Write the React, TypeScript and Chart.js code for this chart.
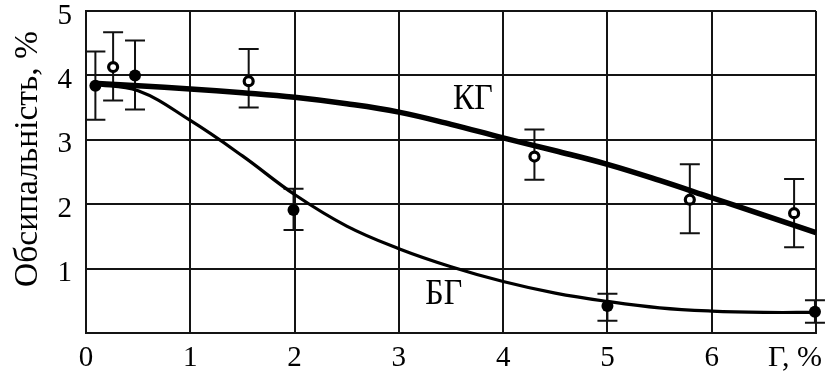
import React, { useEffect, useRef } from "react";
import { Chart, registerables } from "chart.js";

Chart.register(...registerables);

// ---- Data ----
const KG_X = [0.26, 1.56, 4.3, 5.79, 6.79];
const KG_Y = [4.13, 3.91, 2.74, 2.07, 1.86];
const KG_HI = [4.67, 4.41, 3.16, 2.62, 2.39];
const KG_LO = [3.61, 3.5, 2.38, 1.55, 1.33];

const BG_X = [0.09, 0.47, 1.99, 5.0, 6.99];
const BG_Y = [3.84, 4.0, 1.91, 0.42, 0.33];
const BG_HI = [4.37, 4.54, 2.24, 0.61, 0.51];
const BG_LO = [3.31, 3.47, 1.6, 0.19, 0.16];

const CURVE_X = [0.07, 0.5, 1, 1.5, 2, 2.5, 3, 3.5, 4, 4.5, 5, 5.5, 6, 6.5, 7];
const KG_CURVE_Y = [3.88, 3.84, 3.79, 3.73, 3.66, 3.56, 3.43, 3.24, 3.03, 2.83, 2.62, 2.37, 2.1, 1.83, 1.56];
const BG_CURVE_Y = [3.86, 3.76, 3.3, 2.75, 2.15, 1.66, 1.31, 1.03, 0.8, 0.62, 0.49, 0.39, 0.34, 0.32, 0.32];

const X_TICK_LABELS = ["0", "1", "2", "3", "4", "5", "6", ""];
const Y_TICK_LABELS = ["", "1", "2", "3", "4", "5"];
const X_AXIS_LABEL = "Г, %";
const Y_AXIS_LABEL = "Обсипальність, %";
const SERIES_NAMES = ["КГ", "БГ"];
const NAME_X = [3.71, 3.43];
const NAME_Y = [3.62, 0.6];

const FONT = "'Liberation Serif', 'Times New Roman', serif";

const toPts = (xs: number[], ys: number[]) => xs.map((x, i) => ({ x, y: ys[i] }));

const overlay = {
  id: "overlay",
  beforeDatasetsDraw(chart: any) {
    const { ctx, scales } = chart;
    const xs = scales.x;
    const ys = scales.y;
    ctx.save();
    ctx.strokeStyle = "#111";
    ctx.lineWidth = 2;
    const cap = 10;
    const drawBars = (px: number[], lo: number[], hi: number[]) => {
      px.forEach((v, i) => {
        const X = xs.getPixelForValue(v);
        const Yl = ys.getPixelForValue(lo[i]);
        const Yh = ys.getPixelForValue(hi[i]);
        ctx.beginPath();
        ctx.moveTo(X, Yh);
        ctx.lineTo(X, Yl);
        ctx.moveTo(X - cap, Yh);
        ctx.lineTo(X + cap, Yh);
        ctx.moveTo(X - cap, Yl);
        ctx.lineTo(X + cap, Yl);
        ctx.stroke();
      });
    };
    drawBars(KG_X, KG_LO, KG_HI);
    drawBars(BG_X, BG_LO, BG_HI);
    ctx.restore();
  },
  afterDraw(chart: any) {
    const { ctx, scales, chartArea } = chart;
    const xs = scales.x;
    const ys = scales.y;
    ctx.save();
    ctx.fillStyle = "#000";
    ctx.textAlign = "center";
    ctx.textBaseline = "middle";
    ctx.font = `32px ${FONT}`;
    SERIES_NAMES.forEach((n, i) => {
      ctx.save();
      ctx.translate(xs.getPixelForValue(NAME_X[i]), ys.getPixelForValue(NAME_Y[i]));
      ctx.scale(1, 1.12);
      ctx.fillText(n, 0, 0);
      ctx.restore();
    });
    // x axis unit label in place of last tick
    ctx.font = `30px ${FONT}`;
    ctx.textAlign = "right";
    ctx.fillText(X_AXIS_LABEL, chartArea.right + 6, chartArea.bottom + 25);
    // y axis title
    ctx.font = `33.5px ${FONT}`;
    ctx.textAlign = "center";
    ctx.translate(chartArea.left - 58, (chartArea.top + chartArea.bottom) / 2 - 13);
    ctx.rotate(-Math.PI / 2);
    ctx.fillText(Y_AXIS_LABEL, 0, 0);
    ctx.restore();
  },
};

export default function App() {
  const ref = useRef<HTMLCanvasElement | null>(null);
  useEffect(() => {
    document.body.style.margin = "0";
    const canvas = ref.current;
    if (!canvas) return;
    const gridColor = "#141414";
    const chart = new Chart(canvas, {
      type: "scatter",
      data: {
        datasets: [
          {
            label: "КГ curve",
            data: toPts(CURVE_X, KG_CURVE_Y),
            showLine: true,
            borderColor: "#000",
            borderWidth: 5.5,
            pointRadius: 0,
            tension: 0.4,
            order: 3,
            clip: 6,
          },
          {
            label: "БГ curve",
            data: toPts(CURVE_X, BG_CURVE_Y),
            showLine: true,
            borderColor: "#000",
            borderWidth: 3.2,
            pointRadius: 0,
            tension: 0.4,
            order: 2,
            clip: 6,
          },
          {
            label: "КГ",
            data: toPts(KG_X, KG_Y),
            pointRadius: 4.5,
            pointBorderWidth: 3.2,
            pointBackgroundColor: "#fff",
            pointBorderColor: "#000",
            order: 1,
            clip: 10,
          },
          {
            label: "БГ",
            data: toPts(BG_X, BG_Y),
            pointRadius: 6,
            pointBorderWidth: 0,
            pointBackgroundColor: "#000",
            pointBorderColor: "#000",
            order: 1,
            clip: 10,
          },
        ],
      },
      options: {
        animation: false,
        responsive: false,
        events: [],
        layout: { padding: { left: 0, top: 11, right: 9, bottom: 0 } },
        plugins: { legend: { display: false }, tooltip: { enabled: false } },
        scales: {
          x: {
            type: "linear",
            min: 0,
            max: 7,
            grid: { color: gridColor, lineWidth: 2, drawTicks: false },
            border: { color: gridColor, width: 2 },
            ticks: {
              stepSize: 1,
              padding: 8,
              color: "#000",
              font: { family: FONT, size: 29 },
              maxRotation: 0,
              callback: (v: any) => X_TICK_LABELS[Math.round(Number(v))] ?? "",
            },
            afterFit: (s: any) => {
              s.height = 43;
              s.paddingLeft = 0;
              s.paddingRight = 0;
            },
          },
          y: {
            type: "linear",
            min: 0,
            max: 5,
            grid: { color: gridColor, lineWidth: 2, drawTicks: false },
            border: { color: gridColor, width: 2 },
            ticks: {
              stepSize: 1,
              padding: 14,
              labelOffset: 5,
              color: "#000",
              font: { family: FONT, size: 29 },
              callback: (v: any) => Y_TICK_LABELS[Math.round(Number(v))] ?? "",
            },
            afterFit: (s: any) => {
              s.width = 86;
              s.paddingTop = 0;
              s.paddingBottom = 0;
            },
          },
        },
      },
      plugins: [overlay],
    } as any);
    return () => chart.destroy();
  }, []);
  return (
    <div style={{ width: 825, height: 376 }}>
      <canvas ref={ref} width={825} height={376} style={{ display: "block" }} />
    </div>
  );
}
